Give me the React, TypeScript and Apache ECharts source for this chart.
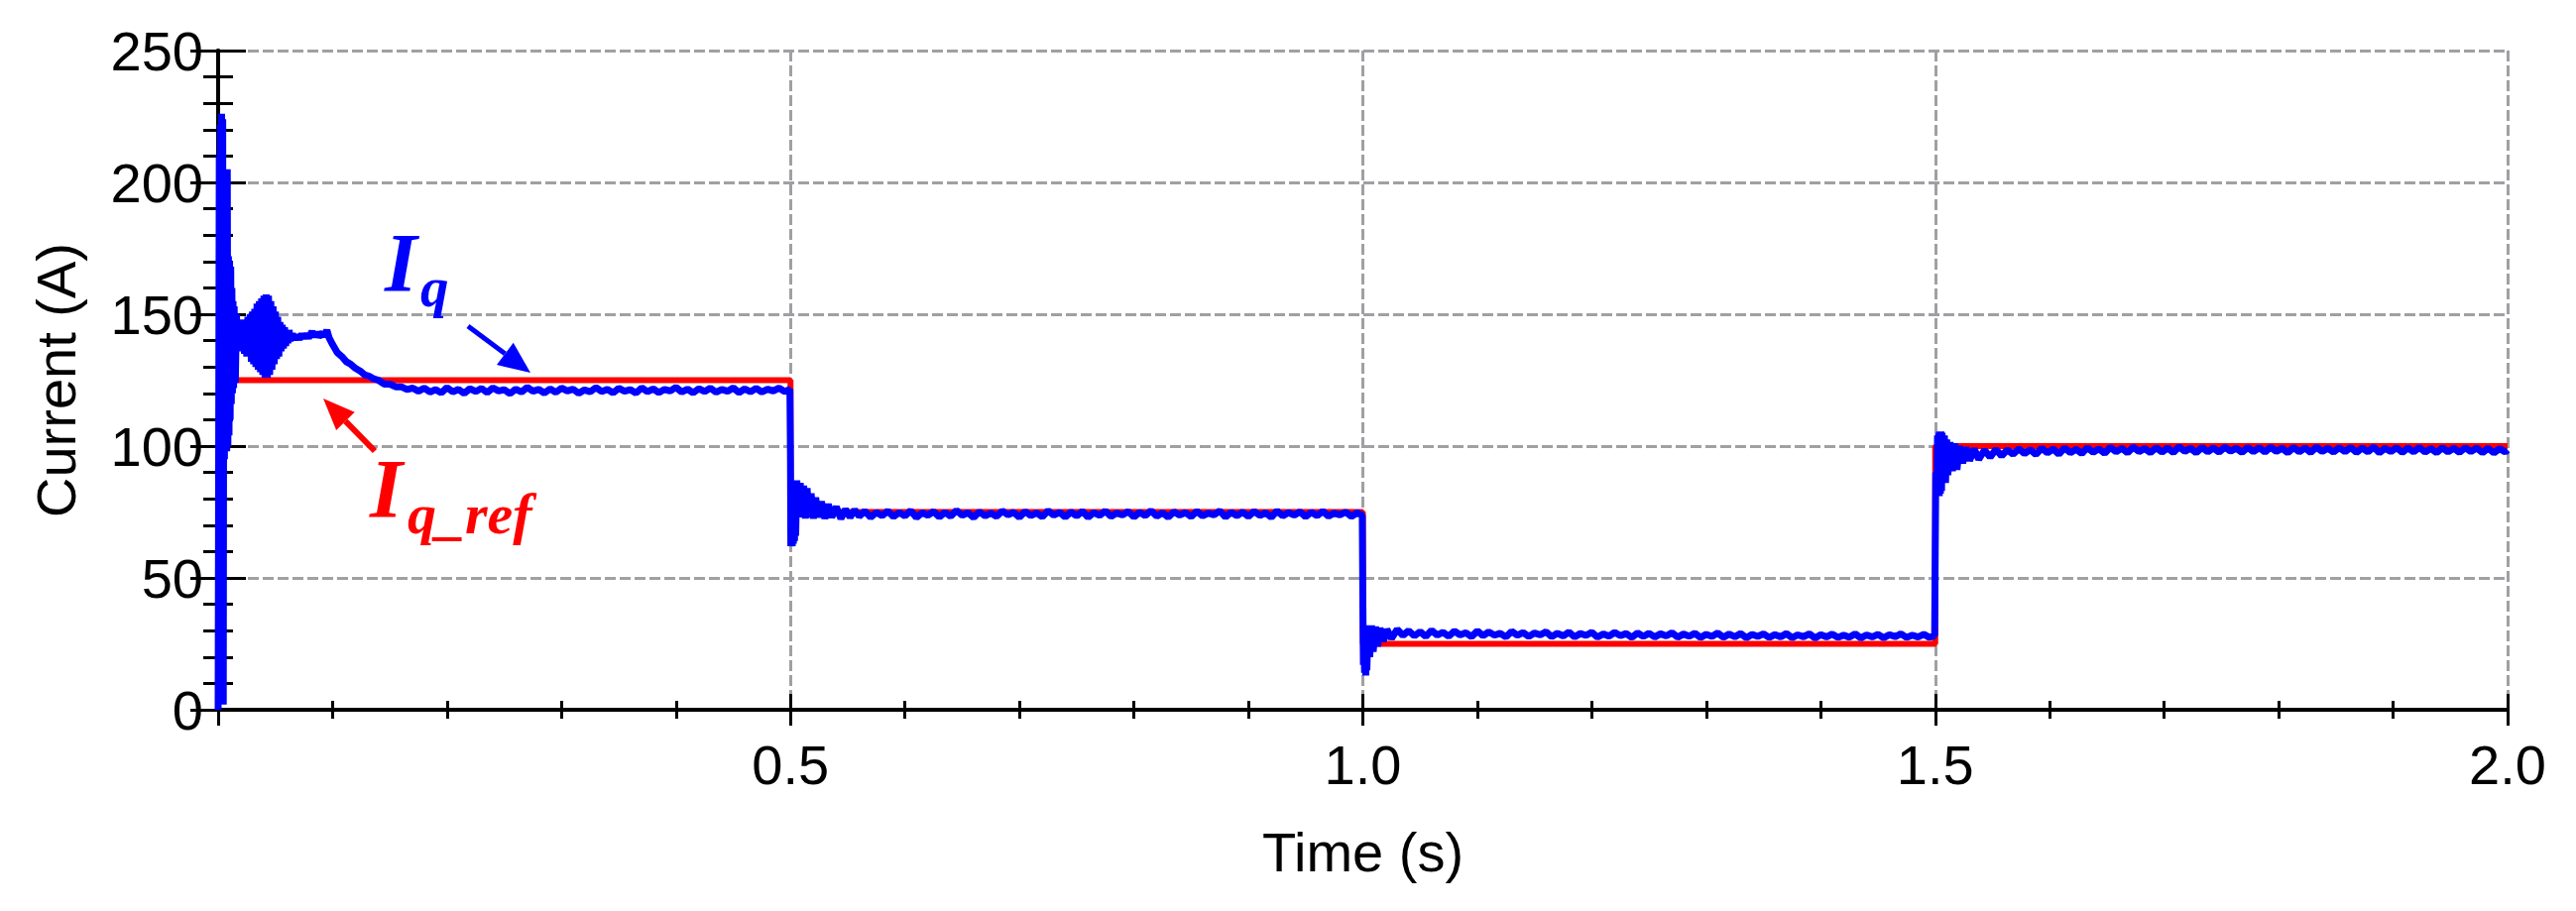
import React, { useEffect, useRef } from "react";
import * as echarts from "echarts";

// ---- data ----
// reference current I_q_ref (A) : [time (s), value]
const iqRef: [number, number][] = [
  [0, 125], [0.5, 125], [0.5, 75], [1.0, 75], [1.0, 25], [1.5, 25], [1.5, 100], [2.0, 100],
];

// measured I_q (A): start-up transient
const iqStartup: [number, number][] = [
  [0, 0], [0.001, 210], [0.0015, 3], [0.002, 222], [0.0025, 2], [0.003, 226], [0.0035, 4],
  [0.004, 224], [0.0045, 2], [0.005, 205], [0.0055, 95], [0.006, 200], [0.0065, 98],
  [0.007, 190], [0.0075, 98], [0.008, 205], [0.0085, 100], [0.009, 172], [0.0095, 104],
  [0.01, 170], [0.0105, 110], [0.011, 168], [0.0115, 116], [0.012, 160], [0.0125, 120],
  [0.013, 155], [0.0135, 122], [0.014, 153], [0.015, 124], [0.016, 150], [0.017, 136],
  [0.018, 146], [0.019, 137], [0.02, 147], [0.021, 136], [0.022, 148], [0.023, 135],
  [0.024, 148], [0.025, 134], [0.026, 149], [0.027, 134], [0.028, 150], [0.029, 132],
  [0.03, 151], [0.031, 131], [0.032, 152], [0.033, 130], [0.034, 154], [0.035, 129],
  [0.036, 155], [0.037, 128], [0.038, 156], [0.039, 127], [0.04, 157], [0.041, 126],
  [0.042, 157.5], [0.043, 126], [0.044, 157], [0.045, 127], [0.046, 155], [0.047, 129],
  [0.048, 153], [0.049, 131], [0.05, 151], [0.051, 133], [0.052, 149], [0.053, 134],
  [0.054, 147], [0.055, 136], [0.056, 146], [0.057, 137], [0.058, 145], [0.059, 138],
  [0.06, 144], [0.061, 139], [0.062, 144], [0.063, 140], [0.065, 142.5],
  [0.067, 140.5], [0.069, 142], [0.071, 140.5], [0.073, 142.5], [0.075, 141], [0.077, 142.5],
  [0.079, 141], [0.082, 143.5], [0.084, 141.5], [0.086, 143], [0.088, 141.5], [0.091, 143],
  [0.093, 141.5], [0.095, 144], [0.097, 141], [0.1, 138.5],
  [0.104, 135.5], [0.108, 134], [0.112, 132], [0.116, 131], [0.12, 129.5], [0.124, 128.5],
  [0.128, 127], [0.132, 126.5], [0.136, 125.5], [0.14, 125], [0.145, 123.5], [0.15, 123.5],
  [0.155, 122.5], [0.16, 122.5], [0.165, 121.5], [0.17, 122],
];

// measured I_q: steady state at 125 A reference
const iqStep1: [number, number][] = [
  [0.175, 120.8], [0.18, 122.0], [0.185, 120.5], [0.19, 121.4], [0.195, 120.2], [0.2, 122.2],
  [0.205, 120.6], [0.21, 121.5], [0.215, 120.0], [0.22, 121.8], [0.225, 120.7], [0.23, 121.9],
  [0.235, 120.3], [0.24, 122.1], [0.245, 120.9], [0.25, 121.4], [0.255, 119.9], [0.26, 121.6],
  [0.265, 120.5], [0.27, 122.3], [0.275, 120.8], [0.28, 121.5], [0.285, 120.1], [0.29, 121.7],
  [0.295, 120.4], [0.3, 122.0], [0.305, 120.9], [0.31, 121.6], [0.315, 120.0], [0.32, 121.3],
  [0.325, 120.6], [0.33, 122.2], [0.335, 120.7], [0.34, 121.5], [0.345, 120.2], [0.35, 121.9],
  [0.355, 120.8], [0.36, 121.4], [0.365, 120.1], [0.37, 122.1], [0.375, 120.6], [0.38, 121.7],
  [0.385, 120.3], [0.39, 121.5], [0.395, 120.9], [0.4, 122.3], [0.405, 120.5], [0.41, 121.6],
  [0.415, 120.2], [0.42, 121.8], [0.425, 120.7], [0.43, 122.0], [0.435, 120.4], [0.44, 121.5],
  [0.445, 120.8], [0.45, 122.1], [0.455, 120.3], [0.46, 121.7], [0.465, 120.6], [0.47, 121.9],
  [0.475, 120.5], [0.48, 121.6], [0.485, 120.9], [0.49, 122.0], [0.495, 120.7], [0.4995, 121.5],
];

// measured I_q: step down to 75 A
const iqStep2: [number, number][] = [
  [0.5, 95], [0.5003, 62], [0.501, 85], [0.5015, 62], [0.502, 86], [0.5025, 63], [0.503, 86],
  [0.5035, 64], [0.504, 87], [0.5045, 66], [0.5055, 87],
  [0.507, 73], [0.5085, 86], [0.51, 73], [0.5115, 85], [0.513, 72.5], [0.5145, 84],
  [0.516, 73], [0.518, 82], [0.52, 72.5], [0.522, 80.5], [0.524, 73], [0.527, 79],
  [0.53, 72.5], [0.533, 78], [0.536, 73], [0.54, 77], [0.544, 72.5], [0.548, 76],
  [0.552, 73.0], [0.556, 75.8],
  [0.56, 73.4], [0.565, 75.3], [0.57, 73.0], [0.575, 74.9], [0.58, 73.6], [0.585, 75.4],
  [0.59, 73.2], [0.595, 74.8], [0.6, 73.5], [0.605, 75.5], [0.61, 72.9], [0.615, 74.7],
  [0.62, 73.8], [0.625, 75.2], [0.63, 73.1], [0.635, 74.9], [0.64, 73.4], [0.645, 75.6],
  [0.65, 73.7], [0.655, 74.8], [0.66, 72.9], [0.665, 75.1], [0.67, 73.5], [0.675, 74.6],
  [0.68, 73.3], [0.685, 75.4], [0.69, 73.9], [0.695, 74.9], [0.7, 73.0], [0.705, 75.2],
  [0.71, 73.6], [0.715, 74.7], [0.72, 73.2], [0.725, 75.5], [0.73, 73.8], [0.735, 74.9],
  [0.74, 73.1], [0.745, 75.0], [0.75, 73.5], [0.755, 75.3], [0.76, 73.0], [0.765, 74.8],
  [0.77, 73.7], [0.775, 75.4], [0.78, 73.3], [0.785, 74.6], [0.79, 73.9], [0.795, 75.2],
  [0.8, 73.1], [0.805, 74.9], [0.81, 73.6], [0.815, 75.5], [0.82, 73.4], [0.825, 74.7],
  [0.83, 73.0], [0.835, 75.1], [0.84, 73.8], [0.845, 74.8], [0.85, 73.2], [0.855, 75.3],
  [0.86, 73.5], [0.865, 74.6], [0.87, 73.9], [0.875, 75.4], [0.88, 73.1], [0.885, 74.9],
  [0.89, 73.6], [0.895, 75.0], [0.9, 73.3], [0.905, 75.2], [0.91, 73.7], [0.915, 74.7],
  [0.92, 73.0], [0.925, 75.4], [0.93, 73.5], [0.935, 74.8], [0.94, 73.8], [0.945, 75.1],
  [0.95, 73.2], [0.955, 74.9], [0.96, 73.6], [0.965, 75.3], [0.97, 73.4], [0.975, 74.6],
  [0.98, 73.9], [0.985, 75.0], [0.99, 73.3], [0.995, 74.7], [0.9995, 73.8],
];

// measured I_q: step down to 25 A
const iqStep3: [number, number][] = [
  [1.0, 40], [1.0005, 17], [1.001, 30], [1.0015, 14], [1.002, 31], [1.0025, 13], [1.003, 31],
  [1.0035, 15], [1.0045, 32], [1.006, 20], [1.0075, 32],
  [1.009, 22], [1.011, 31.5], [1.013, 24], [1.015, 31], [1.018, 26], [1.021, 30.5],
  [1.025, 27], [1.03, 30.5],
  [1.035, 28.2], [1.04, 30.0], [1.045, 28.0], [1.05, 29.6], [1.055, 27.8], [1.06, 30.1],
  [1.065, 28.3], [1.07, 29.4], [1.075, 27.9], [1.08, 29.8], [1.085, 28.4], [1.09, 29.2],
  [1.095, 27.7], [1.1, 29.9], [1.105, 28.1], [1.11, 29.5], [1.115, 28.3], [1.12, 29.0],
  [1.125, 27.6], [1.13, 29.7], [1.135, 28.2], [1.14, 29.3], [1.145, 27.8], [1.15, 29.1],
  [1.155, 28.4], [1.16, 29.6], [1.165, 27.7], [1.17, 29.0], [1.175, 28.0], [1.18, 29.5],
  [1.185, 27.6], [1.19, 28.9], [1.195, 28.2], [1.2, 29.4], [1.205, 27.5], [1.21, 28.8],
  [1.215, 27.9], [1.22, 29.3], [1.225, 28.1], [1.23, 28.9], [1.235, 27.4], [1.24, 29.1],
  [1.245, 27.8], [1.25, 29.0], [1.255, 27.6], [1.26, 28.8], [1.265, 28.0], [1.27, 29.2],
  [1.275, 27.5], [1.28, 28.7], [1.285, 27.9], [1.29, 29.0], [1.295, 27.4], [1.3, 28.6],
  [1.305, 27.8], [1.31, 29.1], [1.315, 27.5], [1.32, 28.7], [1.325, 27.7], [1.33, 28.9],
  [1.335, 27.3], [1.34, 28.6], [1.345, 27.8], [1.35, 28.8], [1.355, 27.4], [1.36, 28.5],
  [1.365, 27.6], [1.37, 28.9], [1.375, 27.3], [1.38, 28.4], [1.385, 27.7], [1.39, 28.8],
  [1.395, 27.2], [1.4, 28.5], [1.405, 27.6], [1.41, 28.7], [1.415, 27.4], [1.42, 28.3],
  [1.425, 27.5], [1.43, 28.8], [1.435, 27.2], [1.44, 28.4], [1.445, 27.6], [1.45, 28.6],
  [1.455, 27.3], [1.46, 28.5], [1.465, 27.7], [1.47, 28.8], [1.475, 27.4], [1.48, 28.3],
  [1.485, 27.6], [1.49, 28.6], [1.495, 27.4], [1.4995, 28.2],
];

// measured I_q: step up to 100 A
const iqStep4: [number, number][] = [
  [1.5, 60], [1.5005, 90], [1.5015, 82], [1.502, 104], [1.5025, 81], [1.503, 105],
  [1.5035, 81], [1.504, 105.5], [1.5045, 82], [1.505, 105.5], [1.5055, 83], [1.506, 105],
  [1.507, 86], [1.508, 104], [1.509, 86], [1.51, 102.5],
  [1.511, 89], [1.513, 101.5], [1.515, 90.5], [1.517, 101], [1.519, 91], [1.521, 100],
  [1.524, 93.5], [1.527, 99.5], [1.53, 94.5], [1.534, 99], [1.538, 95], [1.543, 98.5],
  [1.548, 95.8], [1.553, 98.8], [1.558, 96.3],
  [1.563, 98.6], [1.568, 96.9], [1.573, 99.0], [1.578, 97.1], [1.583, 98.7], [1.588, 96.8],
  [1.593, 99.2], [1.598, 97.4], [1.603, 98.9], [1.608, 96.9], [1.613, 99.3], [1.618, 97.5],
  [1.623, 98.8], [1.628, 97.2], [1.633, 99.4], [1.638, 97.6], [1.643, 99.0], [1.648, 97.3],
  [1.653, 99.5], [1.658, 97.8], [1.663, 99.2], [1.668, 97.4], [1.673, 99.6], [1.678, 97.9],
  [1.683, 99.1], [1.688, 97.5], [1.693, 99.4], [1.698, 97.7], [1.703, 99.3], [1.708, 97.6],
  [1.713, 99.7], [1.718, 98.0], [1.723, 99.2], [1.728, 97.5], [1.733, 99.5], [1.738, 97.8],
  [1.743, 99.3], [1.748, 97.7], [1.753, 99.6], [1.758, 98.1], [1.763, 99.2], [1.768, 97.6],
  [1.773, 99.5], [1.778, 97.9], [1.783, 99.4], [1.788, 97.7], [1.793, 99.6], [1.798, 98.0],
  [1.803, 99.2], [1.808, 97.5], [1.813, 99.5], [1.818, 97.8], [1.823, 99.3], [1.828, 97.6],
  [1.833, 99.6], [1.838, 98.0], [1.843, 99.2], [1.848, 97.7], [1.853, 99.4], [1.858, 97.9],
  [1.863, 99.5], [1.868, 97.6], [1.873, 99.3], [1.878, 97.8], [1.883, 99.6], [1.888, 97.5],
  [1.893, 99.2], [1.898, 97.9], [1.903, 99.4], [1.908, 97.6], [1.913, 99.3], [1.918, 97.8],
  [1.923, 99.5], [1.928, 97.7], [1.933, 99.1], [1.938, 97.5], [1.943, 99.4], [1.948, 97.8],
  [1.953, 99.2], [1.958, 97.6], [1.963, 99.4], [1.968, 97.9], [1.973, 99.3], [1.978, 97.5],
  [1.983, 99.2], [1.988, 97.4], [1.993, 99.0], [1.998, 97.8], [2.0, 98.6],
];

const xRange = { min: 0, max: 2, interval: 0.5 };
const yRange = { min: 0, max: 250, interval: 50 };
const xName = "Time (s)";
const yName = "Current (A)";

const FONT = "'Liberation Sans', Arial, sans-serif";
const SERIF = "'Liberation Serif', 'Times New Roman', serif";
const BLUE = "#0000ff";
const RED = "#ff0000";

function arrow(tail: number[], tip: number[], headLen: number, headHalf: number, width: number, color: string) {
  const dx = tip[0] - tail[0];
  const dy = tip[1] - tail[1];
  const L = Math.hypot(dx, dy);
  const ux = dx / L, uy = dy / L;
  const bx = tip[0] - ux * headLen, by = tip[1] - uy * headLen;
  const px = -uy, py = ux;
  return [
    { type: "line", shape: { x1: tail[0], y1: tail[1], x2: bx, y2: by }, style: { stroke: color, lineWidth: width }, z: 100 },
    {
      type: "polygon",
      shape: { points: [[tip[0], tip[1]], [bx + px * headHalf, by + py * headHalf], [bx - px * headHalf, by - py * headHalf]] },
      style: { fill: color },
      z: 100,
    },
  ];
}

export default function App() {
  const ref = useRef<HTMLDivElement>(null);
  useEffect(() => {
    if (!ref.current) return;
    const chart = echarts.init(ref.current, undefined, { renderer: "svg" });
    const blueData = [...iqStartup, ...iqStep1, ...iqStep2, ...iqStep3, ...iqStep4];
    const axisLine = { show: true, lineStyle: { color: "#000", width: 4 } };
    const gridLine = { show: true, lineStyle: { color: "#a0a0a4", width: 3, type: [11, 4] as any } };
    const labelStyle = { color: "#000", fontFamily: FONT, fontSize: 56 };
    const xCommon = {
      type: "value" as const,
      min: xRange.min,
      max: xRange.max,
      interval: xRange.interval,
      axisLine,
      axisTick: { show: true, inside: true, length: 16, lineStyle: { color: "#000", width: 3 } },
      minorTick: { show: true, splitNumber: 5, length: 9, lineStyle: { color: "#000", width: 3 } },
    };
    const yCommon = {
      type: "value" as const,
      min: yRange.min,
      max: yRange.max,
      interval: yRange.interval,
      axisLine,
      axisTick: { show: true, inside: true, length: 28, lineStyle: { color: "#000", width: 3 } },
      minorTick: { show: true, splitNumber: 5, length: 15, lineStyle: { color: "#000", width: 3 } },
    };
    chart.setOption({
      animation: false,
      backgroundColor: "#fff",
      grid: { left: 220, right: 69, top: 51, bottom: 203, containLabel: false },
      xAxis: [
        {
          ...xCommon,
          position: "bottom",
          splitLine: gridLine,
          axisLabel: {
            ...labelStyle,
            margin: 27,
            formatter: (v: number) => (v === 0 ? "" : v.toFixed(1)),
          },
          name: xName,
          nameLocation: "middle",
          nameGap: 115,
          nameTextStyle: labelStyle,
        },
        { ...xCommon, position: "top", splitLine: { show: false }, axisLabel: { show: false } },
      ],
      yAxis: [
        {
          ...yCommon,
          position: "left",
          splitLine: gridLine,
          axisLabel: { ...labelStyle, margin: 15 },
          name: yName,
          nameLocation: "middle",
          nameRotate: 90,
          nameGap: 136,
          nameTextStyle: labelStyle,
        },
        { ...yCommon, position: "right", splitLine: { show: false }, axisLabel: { show: false } },
      ],
      series: [
        {
          type: "line",
          name: "Iq_ref",
          data: iqRef,
          showSymbol: false,
          lineStyle: { color: RED, width: 6 },
          z: 2,
        },
        {
          type: "line",
          name: "Iq",
          data: blueData,
          showSymbol: false,
          lineStyle: { color: BLUE, width: 7, join: "bevel" },
          z: 3,
        },
      ],
      graphic: [
        { type: "text", x: 388, y: 265, z: 100, style: { text: "I", font: `italic bold 84px ${SERIF}`, fill: BLUE, align: "left", verticalAlign: "middle" } },
        { type: "text", x: 424, y: 289, z: 100, style: { text: "q", font: `italic bold 57px ${SERIF}`, fill: BLUE, align: "left", verticalAlign: "middle" } },
        { type: "text", x: 373, y: 493, z: 100, style: { text: "I", font: `italic bold 85px ${SERIF}`, fill: RED, align: "left", verticalAlign: "middle" } },
        { type: "text", x: 411, y: 518, z: 100, style: { text: "q_ref", font: `italic bold 58px ${SERIF}`, fill: RED, align: "left", verticalAlign: "middle" } },
        ...arrow([472, 329], [535, 376], 32, 14, 5, BLUE),
        ...arrow([378, 455], [326, 402], 32, 13, 6, RED),
      ],
    } as any);
    return () => chart.dispose();
  }, []);
  return (
    <div
      ref={ref}
      style={{ position: "fixed", left: 0, top: 0, width: 2598, height: 919, background: "#fff" }}
    />
  );
}
